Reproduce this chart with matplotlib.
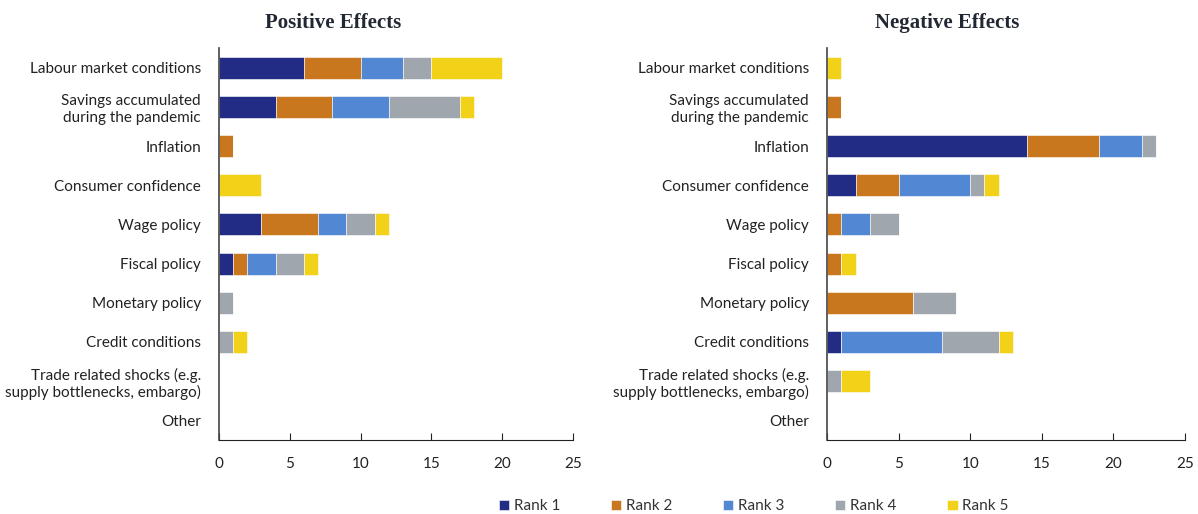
import matplotlib
matplotlib.use("Agg")
import matplotlib.pyplot as plt
import numpy as np

categories = ["Labour market conditions", "Savings accumulated\nduring the pandemic",
              "Inflation", "Consumer confidence", "Wage policy", "Fiscal policy",
              "Monetary policy", "Credit conditions",
              "Trade related shocks (e.g.\nsupply bottlenecks, embargo)", "Other"]
ranks = ["Rank 1", "Rank 2", "Rank 3", "Rank 4", "Rank 5"]
colors = ["#232C85", "#C8771E", "#5288D3", "#9FA6AE", "#F2D119"]

# values per rank, per category (top to bottom)
pos_r1 = [6, 4, 0, 0, 3, 1, 0, 0, 0, 0]
pos_r2 = [4, 4, 1, 0, 4, 1, 0, 0, 0, 0]
pos_r3 = [3, 4, 0, 0, 2, 2, 0, 0, 0, 0]
pos_r4 = [2, 5, 0, 0, 2, 2, 1, 1, 0, 0]
pos_r5 = [5, 1, 0, 3, 1, 1, 0, 1, 0, 0]

neg_r1 = [0, 0, 14, 2, 0, 0, 0, 1, 0, 0]
neg_r2 = [0, 1, 5, 3, 1, 1, 6, 0, 0, 0]
neg_r3 = [0, 0, 3, 5, 2, 0, 0, 7, 0, 0]
neg_r4 = [0, 0, 1, 1, 2, 0, 3, 4, 1, 0]
neg_r5 = [1, 0, 0, 1, 0, 1, 0, 1, 2, 0]

x_ticks = [0, 5, 10, 15, 20, 25]

plt.rcParams['font.family'] = ['Lato', 'DejaVu Sans']

fig = plt.figure(figsize=(11.98, 5.14), dpi=100)
ax1 = fig.add_axes([0.1828, 0.1440, 0.2955, 0.7626])
ax2 = fig.add_axes([0.6903, 0.1440, 0.2988, 0.7626])

def draw(ax, series):
    y = np.arange(len(categories))
    left = np.zeros(len(categories))
    handles = []
    for vals, c, lab in zip(series, colors, ranks):
        v = np.array(vals, dtype=float)
        h = ax.barh(y, v, left=left, height=0.56, color=c, label=lab,
                    edgecolor='white', linewidth=0.4)
        handles.append(h)
        left += v
    ax.set_ylim(len(categories) - 0.5, -0.5)
    ax.set_xlim(0, 25)
    ax.set_xticks(x_ticks)
    ax.set_yticks(y)
    ax.set_yticklabels(categories, fontsize=11, color='#222222')
    for s in ['top', 'right']:
        ax.spines[s].set_visible(False)
    ax.spines['left'].set_color('#444444')
    ax.spines['bottom'].set_color('#222222')
    ax.spines['left'].set_linewidth(1.2)
    ax.tick_params(axis='y', length=0, pad=13)
    ax.tick_params(axis='x', direction='in', length=5, labelsize=11,
                   colors='#222222', pad=12)
    return handles

handles = draw(ax1, [pos_r1, pos_r2, pos_r3, pos_r4, pos_r5])
draw(ax2, [neg_r1, neg_r2, neg_r3, neg_r4, neg_r5])

fig.text(0.278, 0.955, "Positive Effects", ha='center', va='center',
         fontsize=15, fontweight='bold', family=['Liberation Serif', 'DejaVu Serif'],
         color='#222833')
fig.text(0.791, 0.955, "Negative Effects", ha='center', va='center',
         fontsize=15, fontweight='bold', family=['Liberation Serif', 'DejaVu Serif'],
         color='#222833')

fig.legend(handles=handles, labels=ranks, loc='center', bbox_to_anchor=(0.629, 0.015),
           ncol=5, frameon=False, fontsize=11, handlelength=0.7, handleheight=0.7,
           handletextpad=0.3, columnspacing=3.3, labelcolor='#333333')

fig.savefig("out.png", dpi=100)
